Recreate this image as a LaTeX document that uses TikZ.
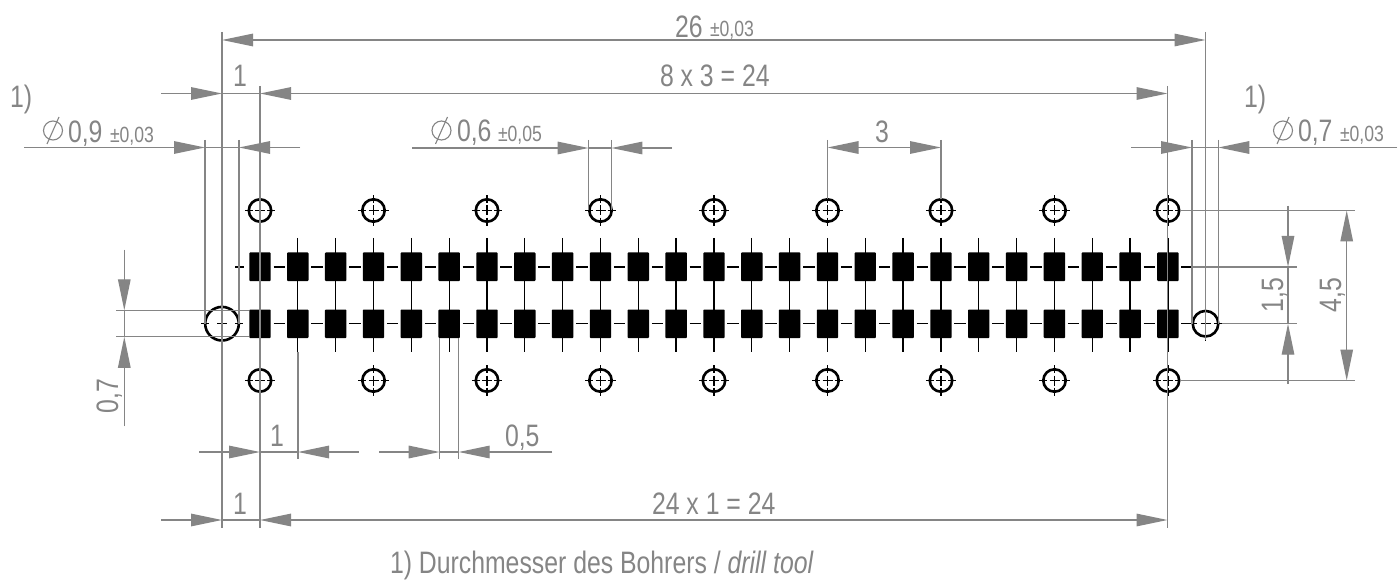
\documentclass[tikz,border=0pt]{standalone}
\usepackage{fontspec}
\usetikzlibrary{arrows.meta}
\setmainfont[FakeStretch=0.80]{Liberation Sans}
\definecolor{dimgrey}{HTML}{858585}
\newcommand{\bigt}{\fontsize{31}{31}\selectfont}
\newcommand{\smallt}{\fontsize{22}{22}\selectfont}
\tikzset{
  dimline/.style={draw=dimgrey,line width=1.3pt,-{Triangle[length=31pt,width=12.5pt]},fill=dimgrey},
  dimboth/.style={draw=dimgrey,line width=1.3pt,{Triangle[length=31pt,width=12.5pt]}-{Triangle[length=31pt,width=12.5pt]}},
  extline/.style={draw=dimgrey,line width=1.3pt},
  pad/.style={fill=black,rounded corners=0.8pt},
  center/.style={draw=black,line width=1.3pt},
  holeline/.style={draw=black,line width=2.6pt},
  big/.style={text=dimgrey,anchor=base west,inner sep=0pt,outer sep=0pt,font=\bigt},
  small/.style={text=dimgrey,anchor=base west,inner sep=0pt,outer sep=0pt,font=\smallt},
  diamsym/.style={draw=dimgrey,line width=1.1pt},
}
\newcommand{\hole}[3]{% x y r
  \draw[holeline] (#1,#2) circle[radius=#3pt];
  \pgfmathsetmacro{\ro}{#3+4}
  \draw[center,line width=1.1pt] (#1-\ro,#2) -- (#1-#3+4,#2) (#1+#3-4,#2) -- (#1+\ro,#2)
     (#1,#2-\ro) -- (#1,#2-#3+4) (#1,#2+#3-4) -- (#1,#2+\ro)
     (#1-5,#2) -- (#1+5,#2) (#1,#2-5) -- (#1,#2+5);
}
\newcommand{\diamsign}[2]{% centre x y
  \draw[diamsym] (#1,#2) circle[radius=9.5pt];
  \draw[diamsym] (#1-6,#2+13.5) -- (#1+6,#2-13.5);
}
\begin{document}
\begin{tikzpicture}[x=1pt,y=-1pt]
\useasboundingbox[fill=white] (0,0) rectangle (1399,585);
% pads and centre lines
\foreach \i in {0,...,24}{
  \pgfmathsetmacro{\px}{260+37.83*\i}
  \draw[center] (\px,238) -- (\px,352);
  \fill[pad] (\px-10.7,252.5) rectangle (\px+10.7,281);
  \fill[pad] (\px-10.7,309.5) rectangle (\px+10.7,338);
}
\foreach \i in {0,...,23}{
  \pgfmathsetmacro{\px}{260+37.83*\i}
  \draw[center] (\px+13.5,267) -- (\px+25,267);
  \draw[center] (\px+13.5,323.7) -- (\px+25,323.7);
}
\draw[center] (235,267) -- (243.5,267);
\draw[center] (1181,267) -- (1192,267);
\draw[center] (1181,323.7) -- (1192,323.7);
% holes
\foreach \i in {0,...,8}{
  \pgfmathsetmacro{\hx}{260+113.5*\i}
  \hole{\hx}{210.5}{11.2}
  \hole{\hx}{380.5}{11.2}
}
\hole{222}{323.7}{16.8}
\hole{1205.5}{323.7}{12.8}
% extension lines
\draw[extline] (222,32) -- (222,528);
\draw[extline] (1205.5,32) -- (1205.5,340);
\draw[extline] (260,86) -- (260,528);
\draw[extline] (1167.5,86) -- (1167.5,528);
\draw[extline] (205,140) -- (205,323.7);
\draw[extline] (239,140) -- (239,323.7);
\draw[extline] (1192,140) -- (1192,323.7);
\draw[extline] (1218.3,140) -- (1218.3,323.7);
\draw[extline] (588.6,140) -- (588.6,210);
\draw[extline] (611.4,140) -- (611.4,210);
\draw[extline] (827.5,140) -- (827.5,199);
\draw[extline] (941,140) -- (941,199);
\draw[extline] (1180,210.5) -- (1355,210.5);
\draw[extline] (1192,267) -- (1297,267);
\draw[extline] (1222,323.7) -- (1297,323.7);
\draw[extline] (1180,380.5) -- (1355,380.5);
\draw[extline] (116,310.3) -- (249,310.3);
\draw[extline] (116,336.8) -- (249,336.8);
\draw[extline] (298,352) -- (298,459);
\draw[extline] (439.7,338) -- (439.7,459);
\draw[extline] (458.7,338) -- (458.7,459);
% dimension lines
\draw[dimboth] (222,40) -- (1205.5,40);
\draw[dimline] (161,93.5) -- (222,93.5);
\draw[extline] (222,93.5) -- (260,93.5);
\draw[dimboth] (260,93.5) -- (1167.5,93.5);
\draw[dimline] (24,147.5) -- (205,147.5);
\draw[extline] (205,147.5) -- (239,147.5);
\draw[dimline] (300,147.5) -- (239,147.5);
\draw[dimline] (1131,147.5) -- (1192,147.5);
\draw[extline] (1192,147.5) -- (1218.3,147.5);
\draw[dimline] (1397,147.5) -- (1218.3,147.5);
\draw[dimline] (412,148) -- (588.6,148);
\draw[extline] (588.6,148) -- (611.4,148);
\draw[dimline] (672,148) -- (611.4,148);
\draw[dimboth] (827.5,147.5) -- (941,147.5);
\draw[dimline] (1288,206) -- (1288,267);
\draw[dimline] (1288,384) -- (1288,323.7);
\draw[extline] (1288,267) -- (1288,323.7);
\draw[dimboth] (1346.7,210.5) -- (1346.7,380.5);
\draw[dimline] (124.3,250) -- (124.3,310.3);
\draw[dimline] (124.3,426) -- (124.3,336.8);
\draw[extline] (124.3,310.3) -- (124.3,336.8);
\draw[dimline] (199,452) -- (260,452);
\draw[extline] (260,452) -- (298,452);
\draw[dimline] (358.7,452) -- (298,452);
\draw[dimline] (379,452) -- (439.7,452);
\draw[extline] (439.7,452) -- (458.7,452);
\draw[dimline] (552,452) -- (458.7,452);
\draw[dimline] (161,520) -- (222,520);
\draw[extline] (222,520) -- (260,520);
\draw[dimboth] (260,520) -- (1167.5,520);
% diameter signs
\diamsign{53}{130.5}
\diamsign{441.5}{130.5}
\diamsign{1283}{130.5}
% texts
\node[big] (t26) at (675,38) {26};
\node[small] (t26b) at (710,37) {±0,03};
\node[big] (tone1) at (233,87) {1};
\node[big] (t8x3) at (660,87) {8 x 3 = 24};
\node[big] (tn1) at (10,108) {1)};
\node[big] (tn2) at (1244,108) {1)};
\node[big] (t09) at (68,143) {0,9};
\node[small] (t09b) at (110,143) {±0,03};
\node[big] (t06) at (457,142) {0,6};
\node[small] (t06b) at (498,142) {±0,05};
\node[big] (t3) at (875,143) {3};
\node[big] (t07) at (1298,142) {0,7};
\node[small] (t07b) at (1340,142) {±0,03};
\node[big] (tone2) at (270,446) {1};
\node[big] (t05) at (505,446) {0,5};
\node[big] (tone3) at (233,514) {1};
\node[big] (t24) at (652,514) {24 x 1 = 24};
\node[big,rotate=90] (t07v) at (118,413) {0,7};
\node[big,rotate=90] (t15) at (1283,312) {1,5};
\node[big,rotate=90] (t45) at (1341,312) {4,5};
\node[big] (foot) at (390,573) {1) Durchmesser des Bohrers / \textit{drill tool}};
\end{tikzpicture}
\end{document}
